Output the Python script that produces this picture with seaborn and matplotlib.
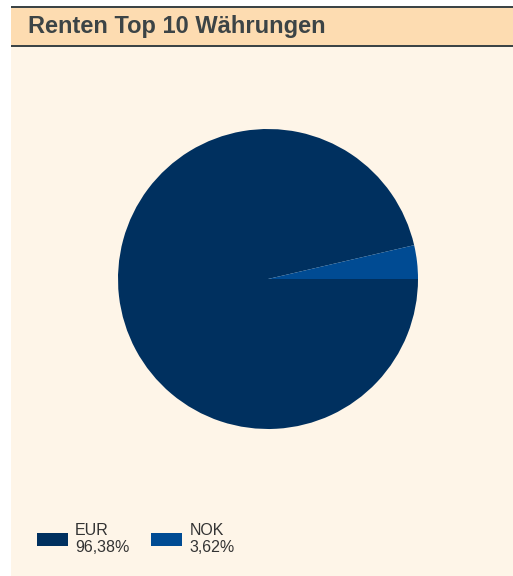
import matplotlib
matplotlib.use("Agg")
import matplotlib.pyplot as plt
from matplotlib.patches import Rectangle
import seaborn as sns

# data
currencies = ["EUR", "NOK"]
shares = [96.38, 3.62]
share_labels = ["96,38%", "3,62%"]
colors = ["#00305f", "#004b93"]

title = "Renten Top 10 Währungen"

sns.set_theme(style="white")
plt.rcParams['font.family'] = ['Liberation Sans', 'DejaVu Sans']

W, H = 513, 576
fig = plt.figure(figsize=(W / 100, H / 100), dpi=100)
fig.patch.set_facecolor("white")

def px(x, y, w, h):
    # pixel box (top-left origin) -> figure fraction
    return (x / W, 1 - (y + h) / H, w / W, h / H)

# cream panel and header band
fig.patches.append(Rectangle(px(11, 46, W - 11, H - 46)[:2], (W - 11) / W, (H - 46) / H,
                             transform=fig.transFigure, facecolor="#fef5e8", edgecolor="none", zorder=-3))
fig.patches.append(Rectangle(px(11, 7, W - 11, 39)[:2], (W - 11) / W, 39 / H,
                             transform=fig.transFigure, facecolor="#fddcb1", edgecolor="none", zorder=-2))
for yy in (6, 45):
    fig.patches.append(Rectangle(px(11, yy, W - 11, 2)[:2], (W - 11) / W, 2 / H,
                                 transform=fig.transFigure, facecolor="#3c4446", edgecolor="none", zorder=-1))
fig.text(28 / W, 1 - 27 / H, title, fontsize=17, fontweight="bold", color="#3c4446",
         va="center", ha="left")

# pie
ax = fig.add_axes(px(268 - 150, 279 - 150, 300, 300))
ax.set_zorder(5)
ax.set_facecolor("none")
wedges, _ = ax.pie(shares, colors=colors, startangle=0, counterclock=False, radius=1,
                   wedgeprops=dict(linewidth=0))
ax.set_xlim(-1, 1)
ax.set_ylim(-1, 1)
ax.set_aspect("equal")
ax.axis("off")

labels = [f"{c}\n{s}" for c, s in zip(currencies, share_labels)]
leg = fig.legend(wedges, labels, loc="center left", bbox_to_anchor=(37 / W, 1 - 539 / H),
                 ncol=2, frameon=False, fontsize=11.5, handlelength=1.94, handleheight=0.81,
                 handletextpad=0.44, columnspacing=1.37, borderpad=0, borderaxespad=0,
                 labelcolor="#333333")
leg.set_zorder(6)

fig.savefig("out.png", dpi=100)
